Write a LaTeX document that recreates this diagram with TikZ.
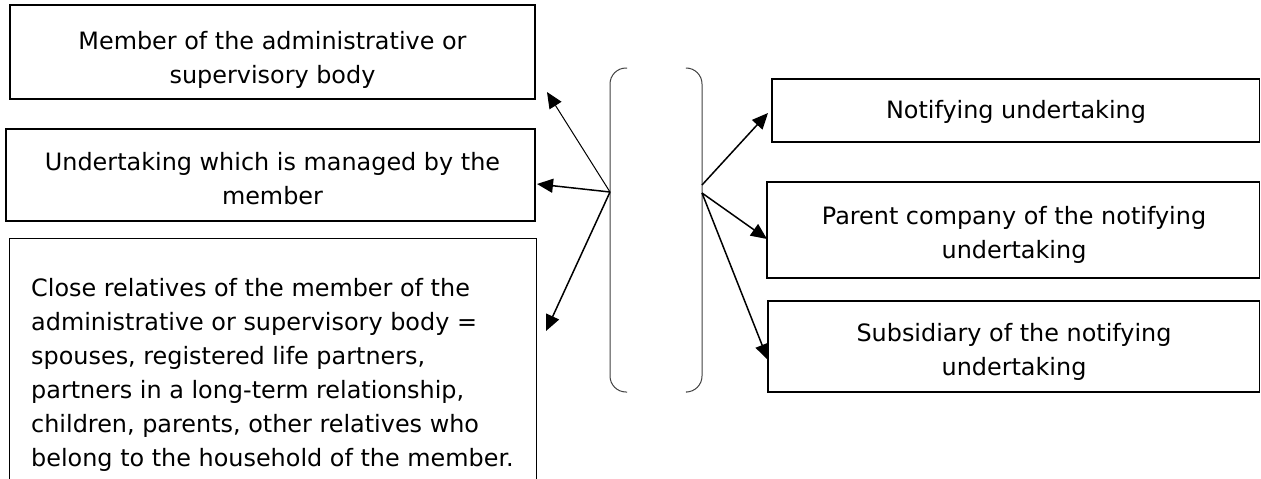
\documentclass[tikz,border=0pt]{standalone}
\usepackage{fontspec}
\setmainfont{DejaVu Sans}
\usetikzlibrary{arrows.meta}
\begin{document}
\begin{tikzpicture}[x=1pt,y=-1pt,
  box/.style={draw, line width=1.3pt, inner sep=0pt},
  txt/.style={font=\fontsize{23.9}{34}\selectfont, align=center, inner sep=0pt},
  fan/.style={line width=1.5pt, -{Triangle[length=16pt,width=14pt]}},
  brk/.style={line width=1pt, draw=black!75, rounded corners=16pt}]
\useasboundingbox (0,0) rectangle (1261,479);

% left-hand boxes
\node[box, minimum width=525pt, minimum height=94pt] (mem) at (272.5,52) {};
\node[txt] (memt) at (272.5,60) {Member of the administrative or\\supervisory body};
\node[box, minimum width=529pt, minimum height=92pt] (man) at (270.5,175) {};
\node[txt] (mant) at (272.5,179) {Undertaking which is managed by the\\member};
\node[inner sep=0pt, minimum width=526pt, minimum height=251pt] (rel) at (273,364.5) {};
\draw[line width=1.3pt] (rel.south west) -- (rel.north west) -- (rel.north east) -- (rel.south east);
\node[txt, align=left, anchor=west] (relt) at (31,375)
  {Close relatives of the member of the\\administrative or supervisory body =\\spouses, registered life partners,\\partners in a long-term relationship,\\children, parents, other relatives who\\belong to the household of the member.};

% right-hand boxes
\node[box, minimum width=487.5pt, minimum height=63pt] (ntf) at (1015.75,110.5) {};
\node[txt] (ntft) at (1016,112) {Notifying undertaking};
\node[box, minimum width=492.5pt, minimum height=96pt] (par) at (1013.25,230) {};
\node[txt] (part) at (1014,235) {Parent company of the notifying\\undertaking};
\node[box, minimum width=491.5pt, minimum height=91pt] (sub) at (1013.75,346.5) {};
\node[txt] (subt) at (1014,352) {Subsidiary of the notifying\\undertaking};

% bracket
\draw[brk] (627,68) -- (610,68) -- (610,392) -- (627,392);
\draw[brk] (687,68) -- (702,68) -- (702,392) -- (687,392);

% arrow origins and tips
\coordinate (lo) at (610,192);
\coordinate (roA) at (702,185);
\coordinate (roB) at (702,193);
\coordinate (tmem) at (547,92);
\coordinate (tman) at (537,184);
\coordinate (trel) at (546,331);
\coordinate (tntf) at (768,113);
\coordinate (tpar) at (767,239);
\coordinate (tsub) at (768,360);

\draw[fan, line width=1pt] (lo) -- (tmem);
\draw[fan] (lo) -- (tman);
\draw[fan] (lo) -- (trel);
\draw[fan] (roA) -- (tntf);
\draw[fan] (roB) -- (tpar);
\draw[fan] (roB) -- (tsub);
\end{tikzpicture}
\end{document}
